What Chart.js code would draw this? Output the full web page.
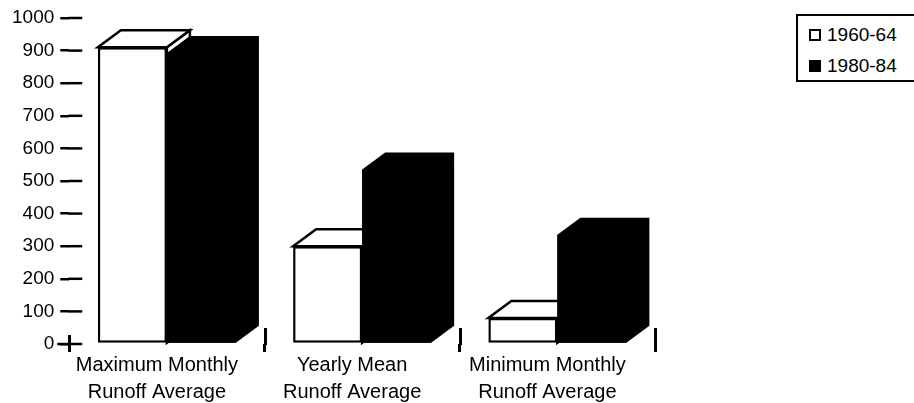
<!DOCTYPE html>
<html>
<head>
<meta charset="utf-8">
<title>Runoff Averages</title>
<script src="https://cdn.jsdelivr.net/npm/chart.js@4.4.0/dist/chart.umd.min.js"></script>
<style>
  html, body { margin: 0; padding: 0; background: #fff; overflow: hidden; }
  #wrap { position: relative; width: 914px; height: 403px; overflow: hidden; background: #fff; }
  #chart { position: absolute; left: 0; top: 0; }
  #legend {
    position: absolute; left: 796px; top: 14px; width: 125px; height: 64px;
    border: 2px solid #000; background: #fff;
    font-family: 'Liberation Sans', Arial, Helvetica, sans-serif; font-size: 19px; color: #000;
  }
  .item { position: absolute; left: 11px; height: 22px; line-height: 22px; white-space: nowrap; }
  .swatch { position: absolute; left: 0; top: 5px; width: 12px; height: 12px; box-sizing: border-box; border: 2px solid #000; }
  .label { position: absolute; left: 18px; top: 0; }
</style>
</head>
<body>
<div id="wrap">
  <canvas id="chart" width="914" height="410"></canvas>
  <div id="legend"></div>
</div>
<script>
// Categories (two-line axis labels)
const categories = [
  ['Maximum Monthly', 'Runoff Average'],
  ['Yearly Mean', 'Runoff Average'],
  ['Minimum Monthly', 'Runoff Average']
];

// Series
const seriesNames = ['1960-64', '1980-84'];
const runoff1960 = [910, 300, 80];
const runoff1980 = [893, 535, 335];

// Value axis
const yMin = 0;
const yMax = 1000;
const yStep = 100;

// Look
const FONT = "'Liberation Sans', Arial, Helvetica, sans-serif";
const DEPTH_X = 23;   // oblique depth of the boxes
const DEPTH_Y = -17;

Chart.defaults.font.family = FONT;
Chart.defaults.color = '#000';

function poly(ctx, pts, fill, stroke, lw) {
  ctx.beginPath();
  ctx.moveTo(pts[0][0], pts[0][1]);
  for (let i = 1; i < pts.length; i++) ctx.lineTo(pts[i][0], pts[i][1]);
  ctx.closePath();
  ctx.fillStyle = fill;
  ctx.fill();
  if (stroke) {
    ctx.strokeStyle = stroke;
    ctx.lineWidth = lw;
    ctx.stroke();
  }
}

// Top and side faces of each bar; the front faces are the bars themselves.
const depthPlugin = {
  id: 'depth',
  beforeDatasetsDraw(chart) {
    const ctx = chart.ctx;
    ctx.save();
    ctx.lineJoin = 'miter';
    const open = chart.getDatasetMeta(0).data;
    const solid = chart.getDatasetMeta(1).data;
    open.forEach(bar => {
      const p = bar.getProps(['x', 'y', 'base', 'width'], true);
      const l = p.x - p.width / 2, r = p.x + p.width / 2;
      poly(ctx, [[r, p.y], [r + DEPTH_X, p.y + DEPTH_Y], [r + DEPTH_X, p.base + DEPTH_Y], [r, p.base]], '#fff', '#000', 2.5);
      poly(ctx, [[l, p.y], [l + DEPTH_X, p.y + DEPTH_Y], [r + DEPTH_X, p.y + DEPTH_Y], [r, p.y]], '#fff', '#000', 2.5);
    });
    // solid boxes: one silhouette so the faces have no seams
    solid.forEach(bar => {
      const p = bar.getProps(['x', 'y', 'base', 'width'], true);
      const l = p.x - p.width / 2, r = p.x + p.width / 2;
      poly(ctx, [
        [l, p.y], [l + DEPTH_X, p.y + DEPTH_Y], [r + DEPTH_X, p.y + DEPTH_Y],
        [r + DEPTH_X, p.base + DEPTH_Y], [r, p.base], [l, p.base]
      ], '#000');
    });
    ctx.restore();
  },
  afterDraw(chart) {
    // tick marks cross the (hidden) axis lines
    const { ctx, chartArea } = chart;
    const x = chart.scales.x, y = chart.scales.y;
    ctx.save();
    ctx.strokeStyle = '#000';
    ctx.lineCap = 'butt';
    ctx.lineWidth = 2.5;
    y.ticks.forEach((t, i) => {
      const py = y.getPixelForTick(i);
      ctx.beginPath();
      ctx.moveTo(chartArea.left - (t.value === 0 ? 12 : 1), py);
      ctx.lineTo(chartArea.left + 13, py);
      ctx.stroke();
    });
    ctx.lineWidth = 3;
    for (let i = 0; i <= x.ticks.length; i++) {
      const px = Math.round(x.getPixelForValue(i - 0.5)) + 0.5;
      ctx.beginPath();
      ctx.moveTo(px, chartArea.bottom + 1);
      ctx.lineTo(px, chartArea.bottom - (i === 0 ? 9 : 16));
      ctx.stroke();
    }
    ctx.restore();
  }
};

new Chart(document.getElementById('chart'), {
  type: 'bar',
  data: {
    labels: categories,
    datasets: [
      {
        label: seriesNames[0],
        data: runoff1960,
        backgroundColor: '#fff',
        borderColor: '#000',
        borderWidth: 2.5,
        borderSkipped: false
      },
      {
        label: seriesNames[1],
        data: runoff1980,
        backgroundColor: '#000',
        borderWidth: 0
      }
    ]
  },
  options: {
    responsive: false,
    animation: false,
    events: [],
    layout: { padding: { left: 6, right: 259, top: 18, bottom: 4 } },
    datasets: { bar: { categoryPercentage: 0.707, barPercentage: 1 } },
    plugins: { legend: { display: false }, tooltip: { enabled: false } },
    scales: {
      x: {
        offset: true,
        border: { display: false },
        grid: { offset: true, drawOnChartArea: false, drawTicks: true, tickLength: 8, color: '#000', lineWidth: 3 },
        ticks: {
          padding: 0, labelOffset: -10, autoSkip: false, maxRotation: 0, color: '#000',
          font: { family: FONT, size: 20, lineHeight: '27px' }
        }
      },
      y: {
        min: yMin, max: yMax,
        border: { display: false },
        grid: { drawOnChartArea: false, drawTicks: true, tickLength: 9, color: '#000', lineWidth: 2.5 },
        ticks: {
          stepSize: yStep, padding: 6, color: '#000', font: { family: FONT, size: 19 },
          callback: v => String(v)
        }
      }
    }
  },
  plugins: [depthPlugin]
});

// Legend box
const legend = document.getElementById('legend');
const swatchFill = ['#fff', '#000'];
seriesNames.forEach((name, i) => {
  const item = document.createElement('div');
  item.className = 'item';
  item.style.top = (8 + i * 31) + 'px';
  const sw = document.createElement('span');
  sw.className = 'swatch';
  sw.style.background = swatchFill[i];
  const tx = document.createElement('span');
  tx.className = 'label';
  tx.textContent = name;
  item.appendChild(sw);
  item.appendChild(tx);
  legend.appendChild(item);
});
</script>
</body>
</html>
